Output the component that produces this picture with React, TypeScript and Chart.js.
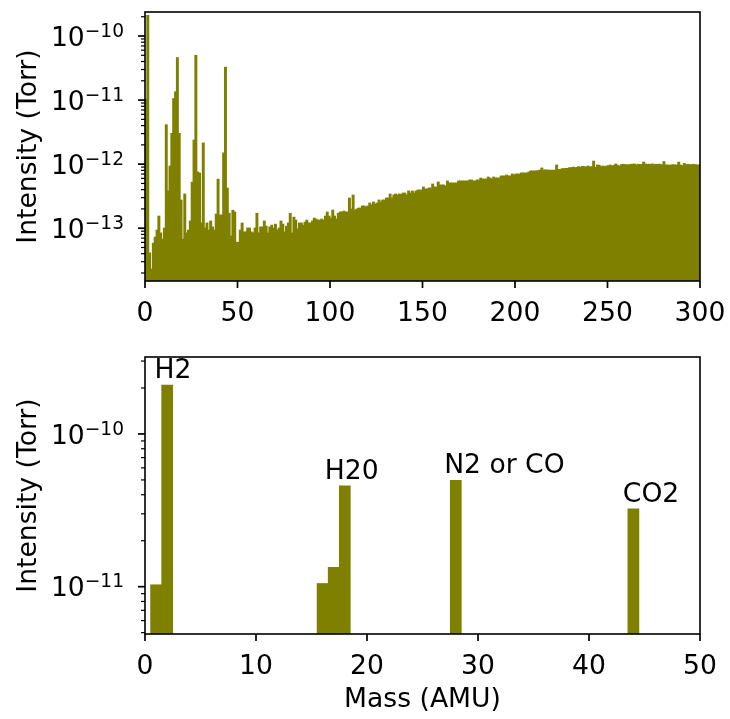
import React, { useEffect, useRef } from 'react';
import { Chart, registerables } from 'chart.js';

Chart.register(...registerables);

const W = 730;
const H = 719;
const FONT = '"DejaVu Sans", sans-serif';
const FS = 26.6;
const SUP = 18.6;
const OLIVE = '#808000';

// ---------- top panel: full scan, 1 AMU bins (bin centres) ----------
const scanMass: number[] = Array.from({ length: 300 }, (_, i) => i + 0.5);
const scanIntensity: number[] = [
  // 1-20
  1.03e-11, 2.09e-10, 4.1e-14, 2.3e-14, 5.8e-14, 7.2e-14, 9.3e-14, 1.54e-13, 8.4e-14, 6.7e-14,
  1.0e-13, 4.1e-12, 3.8e-13, 9.3e-13, 3.0e-12, 1.05e-11, 1.34e-11, 4.58e-11, 3.0e-12, 2.74e-13,
  // 21-40
  6.7e-14, 3.4e-13, 8.4e-14, 9.3e-14, 1.29e-13, 5.2e-13, 2.37e-12, 4.97e-11, 7.5e-13, 7.2e-13,
  1.2e-13, 2.13e-12, 1.0e-13, 1.2e-13, 9.3e-14, 1.29e-13, 1.04e-13, 9.3e-14, 1.65e-13, 5.8e-13,
  // 41-60
  1.6e-13, 1.6e-13, 1.49e-12, 3.24e-11, 4.2e-13, 1.7e-13, 7.5e-14, 1.9e-13, 1.78e-13, 6.0e-14,
  6.0e-14, 9.3e-14, 1.2e-13, 8.7e-14, 8.7e-14, 1.0e-13, 1.0e-13, 8.7e-14, 8.4e-14, 1.0e-13,
  // 61-80
  1.7e-13, 8.4e-14, 1.04e-13, 1.04e-13, 1.29e-13, 1.07e-13, 8.4e-14, 1.04e-13, 1.11e-13, 1.0e-13,
  1.15e-13, 9.3e-14, 1.0e-13, 1.29e-13, 1.15e-13, 8.7e-14, 1.07e-13, 1.2e-13, 1.7e-13, 8.4e-14,
  // 81-100
  1.48e-13, 1.33e-13, 9.7e-14, 1.2e-13, 1.2e-13, 1.11e-13, 1.24e-13, 1.33e-13, 1.2e-13, 1.2e-13,
  1.29e-13, 1.43e-13, 1.38e-13, 1.33e-13, 1.33e-13, 1.38e-13, 1.33e-13, 1.54e-13, 1.78e-13, 1.54e-13,
  // 101-120
  1.43e-13, 1.91e-13, 1.54e-13, 1.38e-13, 1.7e-13, 1.78e-13, 1.78e-13, 1.84e-13, 1.78e-13, 1.78e-13,
  2.94e-13, 1.98e-13, 3.28e-13, 1.91e-13, 1.98e-13, 2.05e-13, 2.05e-13, 2.21e-13, 2.21e-13, 2.13e-13,
  // 121-140
  2.21e-13, 2.46e-13, 2.29e-13, 2.55e-13, 2.37e-13, 2.46e-13, 2.74e-13, 2.55e-13, 2.74e-13, 2.74e-13,
  2.94e-13, 2.94e-13, 3.4e-13, 2.94e-13, 3.28e-13, 3.4e-13, 3.28e-13, 3.4e-13, 3.36e-13, 3.52e-13,
  // 141-160
  3.52e-13, 3.28e-13, 3.79e-13, 3.52e-13, 3.79e-13, 3.52e-13, 3.79e-13, 3.92e-13, 3.92e-13, 3.92e-13,
  4.37e-13, 4.07e-13, 4.07e-13, 4.22e-13, 4.22e-13, 4.87e-13, 4.37e-13, 4.37e-13, 5.23e-13, 4.7e-13,
  // 161-180
  4.7e-13, 4.7e-13, 4.53e-13, 5.43e-13, 5.05e-13, 5.05e-13, 5.05e-13, 5.05e-13, 5.05e-13, 5.43e-13,
  5.43e-13, 5.43e-13, 5.43e-13, 5.43e-13, 5.43e-13, 5.62e-13, 5.62e-13, 5.43e-13, 5.43e-13, 5.62e-13,
  // 181-200
  5.62e-13, 6.04e-13, 5.82e-13, 5.82e-13, 5.82e-13, 6.26e-13, 6.04e-13, 5.82e-13, 6.26e-13, 6.04e-13,
  6.04e-13, 6.04e-13, 6.49e-13, 6.49e-13, 6.49e-13, 6.73e-13, 6.49e-13, 6.49e-13, 6.98e-13, 6.73e-13,
  // 201-220
  6.98e-13, 6.98e-13, 6.98e-13, 7.24e-13, 7.24e-13, 7.24e-13, 7.24e-13, 7.5e-13, 7.78e-13, 7.78e-13,
  7.78e-13, 7.78e-13, 7.9e-13, 8.0e-13, 8.66e-13, 8.06e-13, 8.06e-13, 8.06e-13, 8.0e-13, 8.0e-13,
  // 221-240
  8.0e-13, 8.0e-13, 9.65e-13, 8.2e-13, 8.2e-13, 8.45e-13, 8.45e-13, 8.55e-13, 8.55e-13, 8.76e-13,
  8.76e-13, 8.95e-13, 8.76e-13, 8.86e-13, 9.1e-13, 8.86e-13, 9.2e-13, 9.1e-13, 8.95e-13, 9.3e-13,
  // 241-260
  8.95e-13, 9.1e-13, 1.11e-12, 8.86e-13, 9.65e-13, 9.55e-13, 9.1e-13, 9.3e-13, 9.1e-13, 9.3e-13,
  9.4e-13, 9.65e-13, 9.3e-13, 9.55e-13, 1.0e-12, 9.55e-13, 9.3e-13, 9.75e-13, 9.9e-13, 9.75e-13,
  // 261-280
  9.75e-13, 9.65e-13, 9.9e-13, 9.9e-13, 1.0e-12, 9.65e-13, 9.9e-13, 9.85e-13, 9.85e-13, 1.07e-12,
  1.0e-12, 9.9e-13, 9.9e-13, 9.9e-13, 1.0e-12, 9.75e-13, 9.9e-13, 9.9e-13, 9.9e-13, 9.65e-13,
  // 281-300
  1.09e-12, 9.65e-13, 9.65e-13, 9.55e-13, 9.65e-13, 9.75e-13, 9.65e-13, 9.65e-13, 1.07e-12, 9.65e-13,
  9.4e-13, 1.02e-12, 9.75e-13, 9.9e-13, 9.75e-13, 9.75e-13, 9.9e-13, 9.75e-13, 9.65e-13, 9.65e-13,
];
const topXTicks = [0, 50, 100, 150, 200, 250, 300];
const topYMin = 1.5e-14;
const topYMax = 2.37e-10;

// ---------- bottom panel: identified peaks ----------
const peakMass = [1, 2, 16, 17, 18, 28, 44];
const peakIntensity = [1.03e-11, 2.09e-10, 1.05e-11, 1.34e-11, 4.58e-11, 4.97e-11, 3.24e-11];
const peakLabels = ['H2', 'H20', 'N2 or CO', 'CO2'];
const peakLabelMass = [0.85, 16.2, 26.95, 43.05];
const peakLabelValue = [2.09e-10, 4.58e-11, 4.97e-11, 3.24e-11];
const bottomXTicks = [0, 10, 20, 30, 40, 50];
const bottomYMin = 4.9e-12;
const bottomYMax = 3.19e-10;

const yTitle = 'Intensity (Torr)';
const xTitle = 'Mass (AMU)';

const mplAxes = {
  id: 'mplAxes',
  afterDatasetsDraw(chart: any, _args: any, opts: any) {
    const { ctx, chartArea: a } = chart;
    const xs = chart.scales.x;
    const ys = chart.scales.y;
    ctx.save();
    ctx.fillStyle = '#000';
    ctx.strokeStyle = '#000';
    const seg = (x1: number, y1: number, x2: number, y2: number, w: number) => {
      ctx.lineWidth = w;
      ctx.beginPath();
      ctx.moveTo(x1, y1);
      ctx.lineTo(x2, y2);
      ctx.stroke();
    };
    // annotations
    if (opts.labels) {
      ctx.font = `${FS}px ${FONT}`;
      ctx.textAlign = 'left';
      ctx.textBaseline = 'alphabetic';
      opts.labels.forEach((t: string, i: number) => {
        ctx.fillText(t, xs.getPixelForValue(opts.labelX[i]), ys.getPixelForValue(opts.labelY[i]) - 7);
      });
    }
    // spines
    ctx.lineWidth = 1.6;
    ctx.strokeRect(a.left, a.top, a.right - a.left, a.bottom - a.top);
    // x ticks
    ctx.font = `${FS}px ${FONT}`;
    ctx.textAlign = 'center';
    ctx.textBaseline = 'alphabetic';
    for (const v of opts.xTicks) {
      const px = xs.getPixelForValue(v);
      seg(px, a.bottom, px, a.bottom + 7, 1.7);
      ctx.fillText(String(v), px, a.bottom + 40);
    }
    // y ticks (log)
    const lo = Math.floor(Math.log10(ys.min));
    const hi = Math.ceil(Math.log10(ys.max));
    for (let e = lo; e <= hi; e++) {
      for (let k = 1; k <= 9; k++) {
        const v = k * Math.pow(10, e);
        if (v < ys.min * 0.9999 || v > ys.max * 1.0001) continue;
        const py = ys.getPixelForValue(v);
        if (k === 1) {
          seg(a.left - 7, py, a.left, py, 1.7);
          const exp = '\u2212' + String(-e);
          ctx.textAlign = 'right';
          ctx.font = `${SUP}px ${FONT}`;
          const ew = ctx.measureText(exp).width;
          ctx.fillText(exp, a.left - 21, py + 0.7);
          ctx.font = `${FS}px ${FONT}`;
          ctx.fillText('10', a.left - 21 - ew, py + 9.7);
        } else {
          seg(a.left - 4, py, a.left, py, 1.2);
        }
      }
    }
    // y title
    ctx.save();
    ctx.font = `${FS}px ${FONT}`;
    ctx.textAlign = 'center';
    ctx.translate(36, (a.top + a.bottom) / 2);
    ctx.rotate(-Math.PI / 2);
    ctx.fillText(yTitle, 0, 0);
    ctx.restore();
    // x title
    if (opts.xTitle) {
      ctx.font = `${FS}px ${FONT}`;
      ctx.textAlign = 'center';
      ctx.fillText(opts.xTitle, (a.left + a.right) / 2, 707);
    }
    ctx.restore();
  },
};

function makeConfig(
  xs: number[],
  vals: number[],
  xMax: number,
  yMin: number,
  yMax: number,
  top: number,
  bottom: number,
  inflate: number,
  extra: any,
): any {
  return {
    type: 'bar',
    data: {
      datasets: [
        {
          data: xs.map((m, i) => ({ x: m, y: vals[i] })),
          backgroundColor: OLIVE,
          borderWidth: 0,
          barPercentage: 1,
          categoryPercentage: 1,
          inflateAmount: inflate,
        },
      ],
    },
    options: {
      animation: false,
      responsive: false,
      maintainAspectRatio: false,
      devicePixelRatio: 1,
      layout: { padding: { left: 145, right: W - 700, top, bottom: H - bottom } },
      scales: {
        x: { type: 'linear', min: 0, max: xMax, offset: false, display: false },
        y: { type: 'logarithmic', min: yMin, max: yMax, display: false },
      },
      plugins: {
        legend: { display: false },
        tooltip: { enabled: false },
        mplAxes: extra,
      },
    },
    plugins: [mplAxes],
  };
}

export default function App() {
  const topRef = useRef<HTMLCanvasElement>(null);
  const botRef = useRef<HTMLCanvasElement>(null);

  useEffect(() => {
    const c1 = new Chart(
      topRef.current as HTMLCanvasElement,
      makeConfig(scanMass, scanIntensity, 300, topYMin, topYMax, 12, 281, 0.55, { xTicks: topXTicks }),
    );
    const c2 = new Chart(
      botRef.current as HTMLCanvasElement,
      makeConfig(peakMass, peakIntensity, 50, bottomYMin, bottomYMax, 357, 634, 0.3, {
        xTicks: bottomXTicks,
        xTitle,
        labels: peakLabels,
        labelX: peakLabelMass,
        labelY: peakLabelValue,
      }),
    );
    return () => {
      c1.destroy();
      c2.destroy();
    };
  }, []);

  return (
    <div style={{ position: 'absolute', left: 0, top: 0, width: W, height: H, background: '#fff' }}>
      <canvas ref={topRef} width={W} height={H} style={{ position: 'absolute', left: 0, top: 0 }} />
      <canvas ref={botRef} width={W} height={H} style={{ position: 'absolute', left: 0, top: 0 }} />
    </div>
  );
}
